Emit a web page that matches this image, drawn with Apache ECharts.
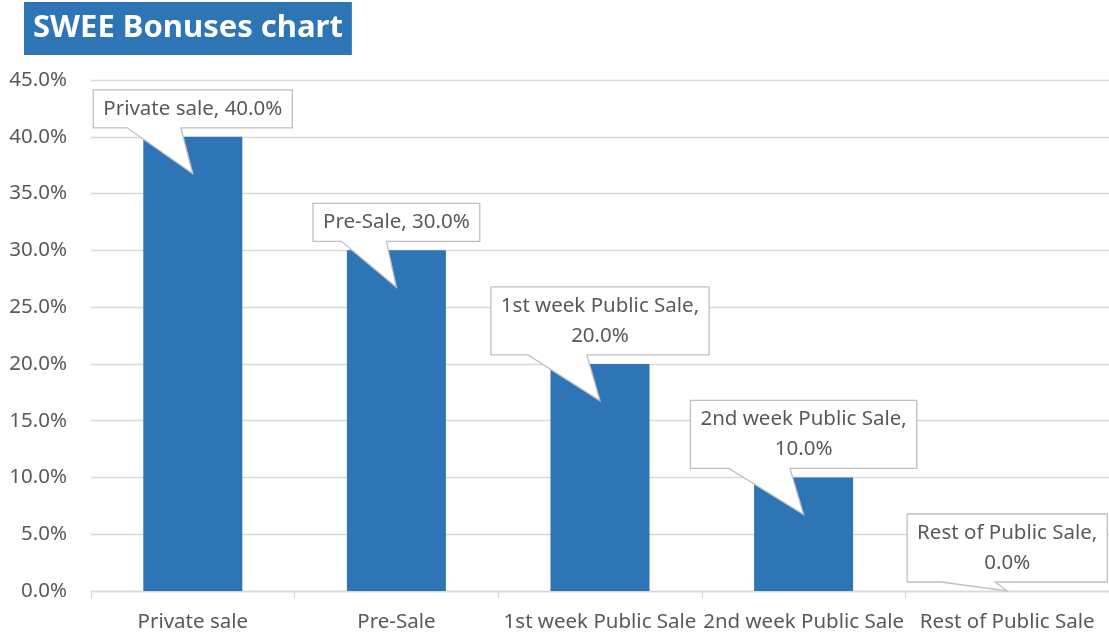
<!DOCTYPE html>
<html lang="en">
<head>
    <meta charset="UTF-8">
    <title>SWEE Bonuses chart</title>
    <script src="https://cdn.jsdelivr.net/npm/echarts@6/dist/echarts.min.js"></script>
    <style>
        html, body { margin: 0; padding: 0; background: #fff; }
        #main { width: 1109px; height: 635px; }
    </style>
</head>
<body>
<div id="main"></div>
<script type="text/javascript">
    // chart data
    var categories = ['Private sale', 'Pre-Sale', '1st week Public Sale', '2nd week Public Sale', 'Rest of Public Sale'];
    var bonuses = [0.40, 0.30, 0.20, 0.10, 0.00];

    var FONT = '"Noto Sans", sans-serif';
    var FS = 20.5;
    var textColor = '#595959';

    function pct(v) {
        return (v * 100).toFixed(1) + '%';
    }

    // measure label text so the callout box fits it
    var ctx = document.createElement('canvas').getContext('2d');
    ctx.font = FS + 'px ' + FONT;
    function measure(s) {
        return ctx.measureText(s).width;
    }

    function renderCallout(params, api) {
        var i = api.value(0);
        var v = api.value(1);
        var top = api.coord([i, v]);
        var zero = api.coord([i, 0]);
        var full = categories[i] + ', ' + pct(v);
        var lines = measure(full) > 205 ? [categories[i] + ',', pct(v)] : [full];
        var w = Math.max.apply(null, lines.map(measure)) + 20;
        var h = lines.length * 30 + 8;
        var tipX = top[0];
        var tipY = Math.min(top[1] + 37, zero[1]);
        var b = top[1] - 9;
        var t = b - h;
        var l = tipX - w / 2;
        var r = tipX + w / 2;
        return {
            type: 'group',
            children: [{
                type: 'polygon',
                shape: {
                    points: [[l, t], [r, t], [r, b], [l + 0.44 * w, b], [tipX, tipY], [l + 0.17 * w, b], [l, b]]
                },
                style: { fill: '#fff', stroke: '#bfbfbf', lineWidth: 1.3 }
            }, {
                type: 'text',
                style: {
                    text: lines.join('\n'),
                    x: tipX,
                    y: (t + b) / 2,
                    align: 'center',
                    verticalAlign: 'middle',
                    lineHeight: 30,
                    font: FS + 'px ' + FONT,
                    fill: textColor
                }
            }]
        };
    }

    var myChart = echarts.init(document.getElementById('main'));

    var option = {
        animation: false,
        title: {
            text: 'SWEE Bonuses chart',
            left: 24,
            top: 2,
            padding: [8, 9, 8, 9],
            backgroundColor: '#2E75B6',
            textStyle: {
                color: '#fff',
                fontFamily: FONT,
                fontWeight: 'bold',
                fontSize: 31,
                lineHeight: 37
            }
        },
        grid: {
            left: 91,
            width: 1022,
            top: 80,
            bottom: 44
        },
        xAxis: {
            type: 'category',
            data: categories,
            axisLine: { lineStyle: { color: '#d9d9d9', width: 1.3 } },
            axisTick: { show: true, length: 7, lineStyle: { color: '#d9d9d9', width: 1.3 } },
            axisLabel: {
                interval: 0,
                hideOverlap: false,
                color: textColor,
                fontFamily: FONT,
                fontSize: FS,
                margin: 21
            }
        },
        yAxis: {
            type: 'value',
            min: 0,
            max: 0.45,
            interval: 0.05,
            axisLine: { show: false },
            axisTick: { show: false },
            splitLine: { lineStyle: { color: '#d9d9d9', width: 1.3 } },
            axisLabel: {
                formatter: pct,
                color: textColor,
                fontFamily: FONT,
                fontSize: FS,
                margin: 24
            }
        },
        series: [{
            type: 'bar',
            data: bonuses,
            barWidth: 99,
            itemStyle: { color: '#2E75B6' }
        }, {
            type: 'custom',
            data: bonuses.map(function (v, i) { return [i, v]; }),
            encode: { x: 0, y: 1 },
            renderItem: renderCallout,
            clip: false,
            z: 5,
            silent: true
        }]
    };

    myChart.setOption(option);
</script>
</body>
</html>
